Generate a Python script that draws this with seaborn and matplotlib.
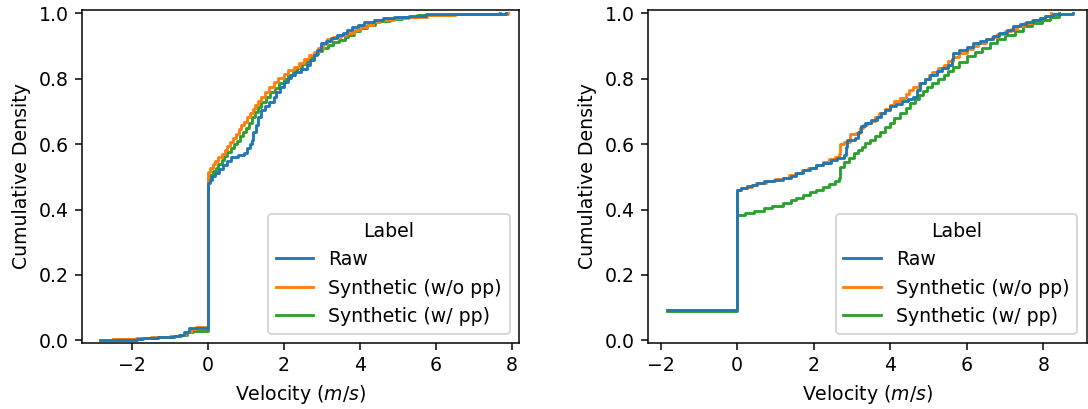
import matplotlib
matplotlib.use("Agg")
import matplotlib.pyplot as plt
import numpy as np
import pandas as pd
import seaborn as sns

# velocity samples (m/s) and how often each one occurs (per mille)
LABELS = ('Raw', 'Synthetic (w/o pp)', 'Synthetic (w/ pp)')

# ---- left panel ----
left_raw_v = [-2.83, -1.86, -1.7, -1.3, -0.9, -0.75, -0.62, -0.5, 0.0,
              0.05, 0.12, 0.2, 0.3, 0.4, 0.5, 0.6, 0.8, 0.95, 1.04, 1.1, 1.15,
              1.2, 1.27, 1.33, 1.39, 1.5, 1.62, 1.74, 1.8, 1.9, 2.0,
              2.1, 2.2, 2.3, 2.45, 2.62, 2.7, 2.8, 2.88, 2.97,
              3.1, 3.25, 3.4, 3.55, 3.67, 3.8, 3.95, 4.1, 4.37, 4.6, 4.9,
              5.3, 5.73, 7.85]
left_raw_w = [2, 3, 3, 2, 3, 4, 10, 10, 444,
              10, 10, 10, 12, 13, 13, 13, 5, 5, 15, 13, 13,
              23, 23, 23, 23, 10, 15, 15, 15, 15, 16,
              10, 10, 10, 10, 11, 15, 15, 15, 21,
              8, 8, 8, 8, 9, 8, 8, 8, 7, 5, 5,
              3, 4, 3]

left_nopp_v = [-2.5, -1.9, -1.5, -1.0, -0.75, -0.6, -0.45, -0.3, 0.0,
               0.05, 0.13, 0.2, 0.28, 0.36, 0.44, 0.51,
               0.58, 0.66, 0.74, 0.81, 0.88, 0.95,
               1.03, 1.1, 1.18, 1.25, 1.32, 1.39, 1.5, 1.62, 1.74,
               1.85, 2.0, 2.12, 2.26, 2.4, 2.52, 2.65, 2.79,
               2.9, 3.02, 3.14, 3.3, 3.5, 3.65, 3.84,
               4.0, 4.2, 4.35, 4.54, 4.9, 5.3, 5.76, 6.5, 7.9]
left_nopp_w = [3, 3, 3, 3, 5, 8, 10, 5, 476,
               11, 11, 11, 11, 11, 11, 11,
               13, 13, 13, 13, 12, 12,
               13, 13, 12, 13, 13, 12, 15, 15, 16,
               12, 12, 11, 11, 12, 12, 11, 11,
               12, 12, 13, 7, 7, 7, 8,
               8, 8, 8, 7, 5, 5, 5, 3, 2]

left_pp_v = [-2.4, -1.8, -1.3, -0.9, -0.7, -0.55, -0.4, 0.0,
             0.07, 0.14, 0.21, 0.28, 0.36, 0.43, 0.5,
             0.6, 0.68, 0.76, 0.84, 0.92, 1.0,
             1.08, 1.16, 1.24, 1.32, 1.4,
             1.52, 1.64, 1.76, 1.88, 2.0,
             2.12, 2.24, 2.36, 2.48, 2.6, 2.7, 2.8, 2.9, 3.0,
             3.15, 3.3, 3.45, 3.6, 3.7, 3.85, 4.0, 4.2, 4.4,
             4.8, 5.1, 5.5, 6.5, 7.7]
left_pp_w = [3, 3, 3, 3, 5, 10, 3, 465,
             11, 11, 11, 11, 12, 12, 12,
             12, 12, 12, 13, 13, 13,
             16, 16, 16, 16, 16,
             14, 14, 14, 14, 14,
             11, 11, 11, 11, 11, 10, 10, 10, 10,
             8, 8, 8, 8, 8, 10, 10, 10, 10,
             7, 7, 6, 3, 2]

# ---- right panel ----
right_raw_v = [-1.83, 0.0,
               0.1, 0.25, 0.4, 0.51, 0.7, 0.95, 1.21, 1.4, 1.55, 1.73,
               1.9, 2.05, 2.25, 2.45, 2.6, 2.78, 2.83, 2.86, 3.07, 3.15, 3.23,
               3.35, 3.5, 3.65, 3.75, 3.87, 3.99, 4.15, 4.3, 4.45, 4.6,
               4.7, 4.78, 4.9, 5.05, 5.21, 5.35, 5.52, 5.6, 5.65,
               5.8, 6.0, 6.17, 6.35, 6.5, 6.69, 6.85, 7.05, 7.21,
               7.4, 7.55, 7.74, 7.9, 8.05, 8.26, 8.78]
right_raw_w = [94, 366,
               5, 6, 5, 5, 5, 5, 5, 8, 8, 9,
               7, 7, 7, 8, 8, 9, 23, 23, 7, 17, 17,
               10, 10, 10, 10, 10, 11, 8, 8, 7, 7,
               20, 21, 12, 12, 12, 10, 10, 18, 18,
               10, 10, 10, 7, 7, 7, 10, 10, 11,
               7, 7, 6, 6, 6, 6, 2]

right_nopp_v = [-1.83, 0.0,
                0.1, 0.25, 0.4, 0.5, 0.75, 1.0, 1.2, 1.35, 1.5, 1.7,
                1.85, 2.05, 2.25, 2.4, 2.55, 2.65, 2.69, 2.8, 2.95, 3.1, 3.2,
                3.3, 3.4, 3.5, 3.6, 3.7, 3.85, 4.0, 4.1, 4.25, 4.4, 4.5,
                4.6, 4.75, 4.9, 5.0, 5.1, 5.25, 5.4, 5.5, 5.65, 5.8, 6.0,
                6.15, 6.3, 6.5, 6.65, 6.8, 7.0, 7.15, 7.3, 7.5,
                7.7, 7.9, 8.05, 8.2]
right_nopp_w = [92, 368,
                5, 5, 5, 5, 6, 6, 5, 8, 8, 7,
                8, 8, 9, 8, 8, 9, 30, 5, 25, 5, 15,
                7, 7, 6, 12, 12, 13, 13, 11, 11, 11, 12,
                11, 11, 11, 12, 11, 11, 11, 12, 12, 12, 11,
                10, 10, 10, 8, 8, 9, 8, 8, 9,
                8, 8, 7, 7]

right_pp_v = [-1.83, 0.0,
              0.2, 0.45, 0.69, 0.9, 1.21, 1.4, 1.55, 1.73, 1.9, 2.05, 2.25,
              2.4, 2.55, 2.65, 2.69, 2.8, 2.92, 3.04, 3.15, 3.25, 3.35, 3.47,
              3.6, 3.72, 3.85, 3.99, 4.1, 4.25, 4.4, 4.52,
              4.65, 4.75, 4.85, 4.95, 5.1, 5.25, 5.4, 5.52, 5.65, 5.8, 6.0,
              6.2, 6.4, 6.6, 6.8, 7.0, 7.25, 7.47, 7.7, 7.95, 8.17, 8.4]
right_pp_w = [90, 294,
              5, 5, 10, 8, 8, 8, 8, 9, 8, 8, 9,
              8, 9, 9, 34, 14, 14, 14, 10, 10, 10, 11,
              12, 13, 13, 13, 15, 15, 15, 16,
              13, 13, 12, 13, 12, 12, 12, 12, 13, 15, 16,
              13, 13, 14, 13, 13, 13, 13, 10, 10, 10, 10]


def make_frame(series):
    rows = []
    for label, (v, w) in zip(LABELS, series):
        rows.append(pd.DataFrame({'Velocity': v, 'Weight': w, 'Label': label}))
    return pd.concat(rows, ignore_index=True)


df_left = make_frame([(left_raw_v, left_raw_w), (left_nopp_v, left_nopp_w),
                      (left_pp_v, left_pp_w)])
df_right = make_frame([(right_raw_v, right_raw_w), (right_nopp_v, right_nopp_w),
                       (right_pp_v, right_pp_w)])

fig, axes = plt.subplots(1, 2, figsize=(1088 / 136, 409 / 136), dpi=136)
colors = ['tab:blue', 'tab:orange', 'tab:green']

for ax, df, xlim in zip(axes, [df_left, df_right], [(-3.32, 8.19), (-2.32, 9.13)]):
    sns.ecdfplot(data=df, x='Velocity', weights='Weight', hue='Label',
                 hue_order=list(LABELS), palette=colors, linewidth=1.5, ax=ax)
    # drop the (-inf, 0) anchor so the curve starts at the first sample, no riser from 0
    for line in ax.lines:
        x, y = line.get_data()
        x, y = np.asarray(x), np.asarray(y)
        keep = np.isfinite(x)
        line.set_data(x[keep], y[keep])
    ax.set_xlim(*xlim)
    ax.set_ylim(-0.008, 1.01)
    ax.set_xlabel('Velocity ($m/s$)')
    ax.set_ylabel('Cumulative Density')
    sns.move_legend(ax, 'lower right')

axes[0].set_position([0.0751, 0.1614, 0.4019, 0.8142])
axes[1].set_position([0.5959, 0.1614, 0.4029, 0.8142])

fig.savefig('out.png', dpi=136)
